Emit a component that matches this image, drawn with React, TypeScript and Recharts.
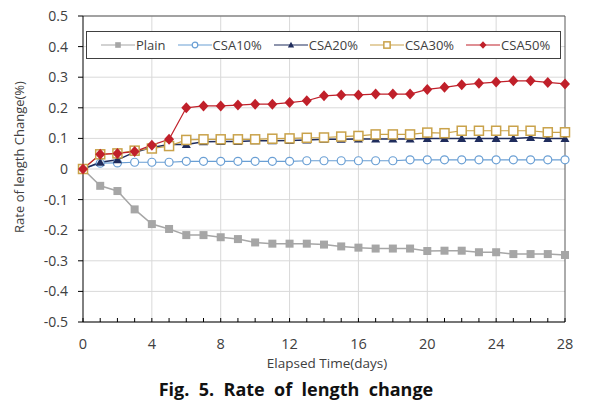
import React from 'react';
import {
  LineChart,
  Line,
  XAxis,
  YAxis,
  CartesianGrid,
  ReferenceLine,
  Legend,
  Label,
} from 'recharts';

// elapsed days
const days = [0, 1, 2, 3, 4, 5, 6, 7, 8, 9, 10, 11, 12, 13, 14, 15, 16, 17, 18, 19, 20, 21, 22, 23, 24, 25, 26, 27, 28];

// rate of length change (%)
const plain = [0, -0.055, -0.072, -0.132, -0.18, -0.196, -0.216, -0.216, -0.223, -0.229, -0.24, -0.244, -0.244, -0.244, -0.247, -0.253, -0.257, -0.26, -0.26, -0.26, -0.268, -0.267, -0.267, -0.272, -0.272, -0.278, -0.278, -0.278, -0.281];
const csa10 = [0, 0.019, 0.02, 0.022, 0.022, 0.022, 0.025, 0.025, 0.025, 0.025, 0.025, 0.025, 0.025, 0.027, 0.027, 0.027, 0.027, 0.027, 0.027, 0.03, 0.03, 0.03, 0.03, 0.03, 0.03, 0.03, 0.03, 0.03, 0.03];
const csa20 = [0, 0.022, 0.03, 0.055, 0.07, 0.08, 0.08, 0.089, 0.09, 0.09, 0.092, 0.092, 0.093, 0.095, 0.097, 0.097, 0.098, 0.098, 0.098, 0.098, 0.1, 0.1, 0.1, 0.1, 0.1, 0.1, 0.103, 0.1, 0.1];
const csa30 = [0, 0.048, 0.051, 0.06, 0.067, 0.075, 0.095, 0.097, 0.097, 0.097, 0.097, 0.099, 0.1, 0.102, 0.103, 0.106, 0.108, 0.113, 0.113, 0.113, 0.119, 0.117, 0.125, 0.125, 0.125, 0.125, 0.125, 0.12, 0.12];
const csa50 = [0, 0.048, 0.051, 0.057, 0.078, 0.097, 0.2, 0.206, 0.206, 0.209, 0.212, 0.212, 0.217, 0.223, 0.239, 0.242, 0.242, 0.245, 0.245, 0.245, 0.26, 0.267, 0.275, 0.28, 0.284, 0.288, 0.288, 0.283, 0.278];

const yTicks = [-0.5, -0.4, -0.3, -0.2, -0.1, 0, 0.1, 0.2, 0.3, 0.4, 0.5];
const xGrid = [4, 8, 12, 16, 20, 24];

const data = days.map((d, i) => ({
  day: d,
  plain: plain[i],
  csa10: csa10[i],
  csa20: csa20[i],
  csa30: csa30[i],
  csa50: csa50[i],
}));

const FONT = '"Open Sans", "Noto Sans", sans-serif';

type Shape = 'square' | 'circle' | 'triangle' | 'openSquare' | 'diamond';

const series: { key: string; name: string; color: string; shape: Shape; width: number }[] = [
  { key: 'plain', name: 'Plain', color: '#a6a6a6', shape: 'square', width: 1.5 },
  { key: 'csa10', name: 'CSA10%', color: '#6a9fd4', shape: 'circle', width: 1.2 },
  { key: 'csa20', name: 'CSA20%', color: '#1f2c5c', shape: 'triangle', width: 1.5 },
  { key: 'csa30', name: 'CSA30%', color: '#c9a24a', shape: 'openSquare', width: 1.2 },
  { key: 'csa50', name: 'CSA50%', color: '#c0202a', shape: 'diamond', width: 1.2 },
];

const Marker = ({ cx, cy, shape, color, s = 1 }: { cx: number; cy: number; shape: Shape; color: string; s?: number }) => {
  if (cx == null || cy == null) return null;
  switch (shape) {
    case 'square':
      return <rect x={cx - 4 * s} y={cy - 4 * s} width={8 * s} height={8 * s} fill={color} />;
    case 'circle':
      return <circle cx={cx} cy={cy} r={4 * s} fill="#fff" stroke={color} strokeWidth={1.2} />;
    case 'triangle':
      return (
        <polygon
          points={`${cx},${cy - 4.5 * s} ${cx + 4.5 * s},${cy + 3.5 * s} ${cx - 4.5 * s},${cy + 3.5 * s}`}
          fill={color}
        />
      );
    case 'openSquare':
      return (
        <rect x={cx - 4.5 * s} y={cy - 4.5 * s} width={9 * s} height={9 * s} fill="#fff" stroke={color} strokeWidth={1.5} />
      );
    case 'diamond':
      return (
        <polygon
          points={`${cx},${cy - 5.5 * s} ${cx + 5 * s},${cy} ${cx},${cy + 5.5 * s} ${cx - 5 * s},${cy}`}
          fill={color}
        />
      );
    default:
      return null;
  }
};

const XTick = (props: any) => {
  const { x, y, payload } = props;
  const v = payload.value;
  return (
    <g>
      <line x1={x} y1={y} x2={x} y2={y - 4} stroke="#000" strokeWidth={1} />
      {v % 4 === 0 && (
        <text x={x} y={y + 27} textAnchor="middle" fontSize={14.5} fill="#404040" fontFamily={FONT}>
          {v}
        </text>
      )}
    </g>
  );
};

const LegendBox = () => (
  <div
    style={{
      display: 'flex',
      alignItems: 'center',
      height: 28,
      boxSizing: 'border-box',
      border: '1px solid #404040',
      background: '#fff',
      paddingLeft: 14,
      fontFamily: FONT,
      fontSize: 13,
      color: '#404040',
    }}
  >
    {series.map((s) => (
      <div key={s.key} style={{ display: 'flex', alignItems: 'center', marginRight: 12 }}>
        <svg width={34} height={12} style={{ display: 'block' }}>
          <line x1={0} y1={6} x2={34} y2={6} stroke={s.color} strokeWidth={1.2} />
          <Marker cx={17} cy={6} shape={s.shape} color={s.color} s={0.7} />
        </svg>
        <span style={{ marginLeft: 1 }}>{s.name}</span>
      </div>
    ))}
  </div>
);

const App: React.FC = () => {
  return (
    <div style={{ position: 'absolute', left: 0, top: 0, width: 592, height: 410, background: '#fff' }}>
      <LineChart width={592} height={410} data={data} margin={{ top: 16, right: 27, bottom: 0, left: 0 }}>
        <CartesianGrid vertical={false} stroke="#d9d9d9" />
        {xGrid.map((g) => (
          <ReferenceLine key={g} x={g} stroke="#d9d9d9" />
        ))}
        <ReferenceLine y={0.5} stroke="#595959" />
        <ReferenceLine x={28} stroke="#595959" />
        <XAxis
          dataKey="day"
          type="number"
          domain={[0, 28]}
          ticks={days}
          interval={0}
          height={88}
          tickSize={0}
          tickMargin={0}
          tickLine={false}
          axisLine={{ stroke: '#000' }}
          tick={<XTick />}
        >
          <Label
            content={() => (
              <text x={327} y={368} textAnchor="middle" fontSize={13.5} fill="#404040" fontFamily={FONT}>
                Elapsed Time(days)
              </text>
            )}
          />
        </XAxis>
        <YAxis
          type="number"
          domain={[-0.5, 0.5]}
          ticks={yTicks}
          interval={0}
          width={83}
          tickSize={5}
          tickMargin={10}
          axisLine={{ stroke: '#000' }}
          tickLine={{ stroke: '#000' }}
          tickFormatter={(v: number) => String(v)}
          tick={{ fontSize: 14, fill: '#404040', fontFamily: FONT }}
        >
          <Label
            content={() => (
              <text
                x={19}
                y={157}
                transform="rotate(-90, 19, 157)"
                textAnchor="middle"
                dominantBaseline="central"
                fontSize={13}
                fill="#404040"
                fontFamily={FONT}
              >
                Rate of length Change(%)
              </text>
            )}
          />
        </YAxis>
        <Legend
          layout="horizontal"
          verticalAlign="middle"
          align="center"
          content={<LegendBox />}
          wrapperStyle={{ position: 'absolute', left: 86, top: 31, width: 475, height: 28 }}
        />
        {series.map((s) => (
          <Line
            key={s.key}
            dataKey={s.key}
            name={s.name}
            type="linear"
            stroke={s.color}
            strokeWidth={s.width}
            isAnimationActive={false}
            dot={(p: any) => <Marker key={`${s.key}-${p.index}`} cx={p.cx} cy={p.cy} shape={s.shape} color={s.color} />}
            activeDot={false}
          />
        ))}
      </LineChart>
      <div
        style={{
          position: 'absolute',
          left: 0,
          top: 377,
          width: 592,
          textAlign: 'center',
          fontFamily: FONT,
          fontWeight: 700,
          fontSize: 18,
          color: '#111',
          whiteSpace: 'pre',
        }}
      >
        {'Fig.  5.  Rate  of  length  change'}
      </div>
    </div>
  );
};

export default App;
